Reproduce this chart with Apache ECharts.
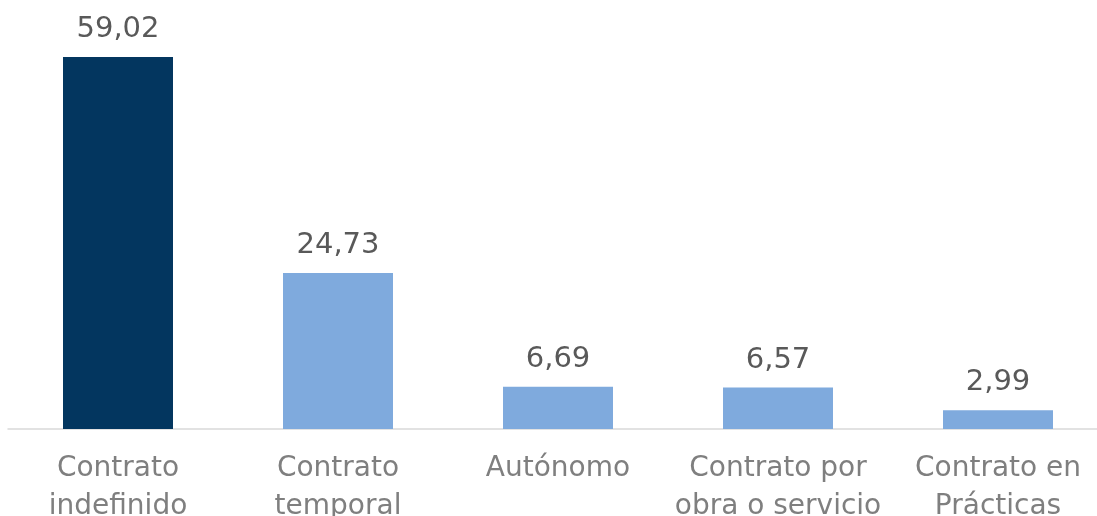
<!DOCTYPE html>
<html>
<head>
<meta charset="utf-8">
<script src="https://cdn.jsdelivr.net/npm/echarts@6/dist/echarts.min.js"></script>
<style>
  html, body { margin: 0; padding: 0; background: #fff; }
  #chart { width: 1097px; height: 516px; }
</style>
</head>
<body>
<div id="chart"></div>
<script>
// datos
var categorias = ['Contrato\nindefinido', 'Contrato\ntemporal', 'Autónomo', 'Contrato por\nobra o servicio', 'Contrato en\nPrácticas'];
var valores = [59.02, 24.73, 6.69, 6.57, 2.99];
var colores = ['#03365F', '#7FAADD', '#7FAADD', '#7FAADD', '#7FAADD'];

var fuente = 'DejaVu Sans';

var myChart = echarts.init(document.getElementById('chart'));
myChart.setOption({
  animation: false,
  grid: {          // layout
    left: 8,
    width: 1100,
    top: 0,
    height: 429,
    outerBoundsMode: 'none',
    containLabel: false
  },
  xAxis: {
    type: 'category',
    data: categorias,
    axisLine: { lineStyle: { color: '#D9D9D9', width: 1.5 } },
    axisTick: { show: false },
    axisLabel: {
      interval: 0,
      margin: 21,
      color: '#7F7F7F',
      fontFamily: fuente,
      fontSize: 28,
      lineHeight: 38
    }
  },
  yAxis: {
    type: 'value',
    min: 0,
    max: 68.06,
    show: false,
    splitLine: { show: false }
  },
  series: [
    {
      type: 'bar',
      barWidth: '50%',
      data: valores.map(function (v, i) {
        return { value: v, itemStyle: { color: colores[i] } };
      }),
      label: {
        show: true,
        position: 'top',
        distance: 13,
        color: '#595959',
        fontFamily: fuente,
        fontSize: 29,
        formatter: function (p) { return p.value.toFixed(2).replace('.', ','); }
      }
    }
  ]
});
</script>
</body>
</html>
